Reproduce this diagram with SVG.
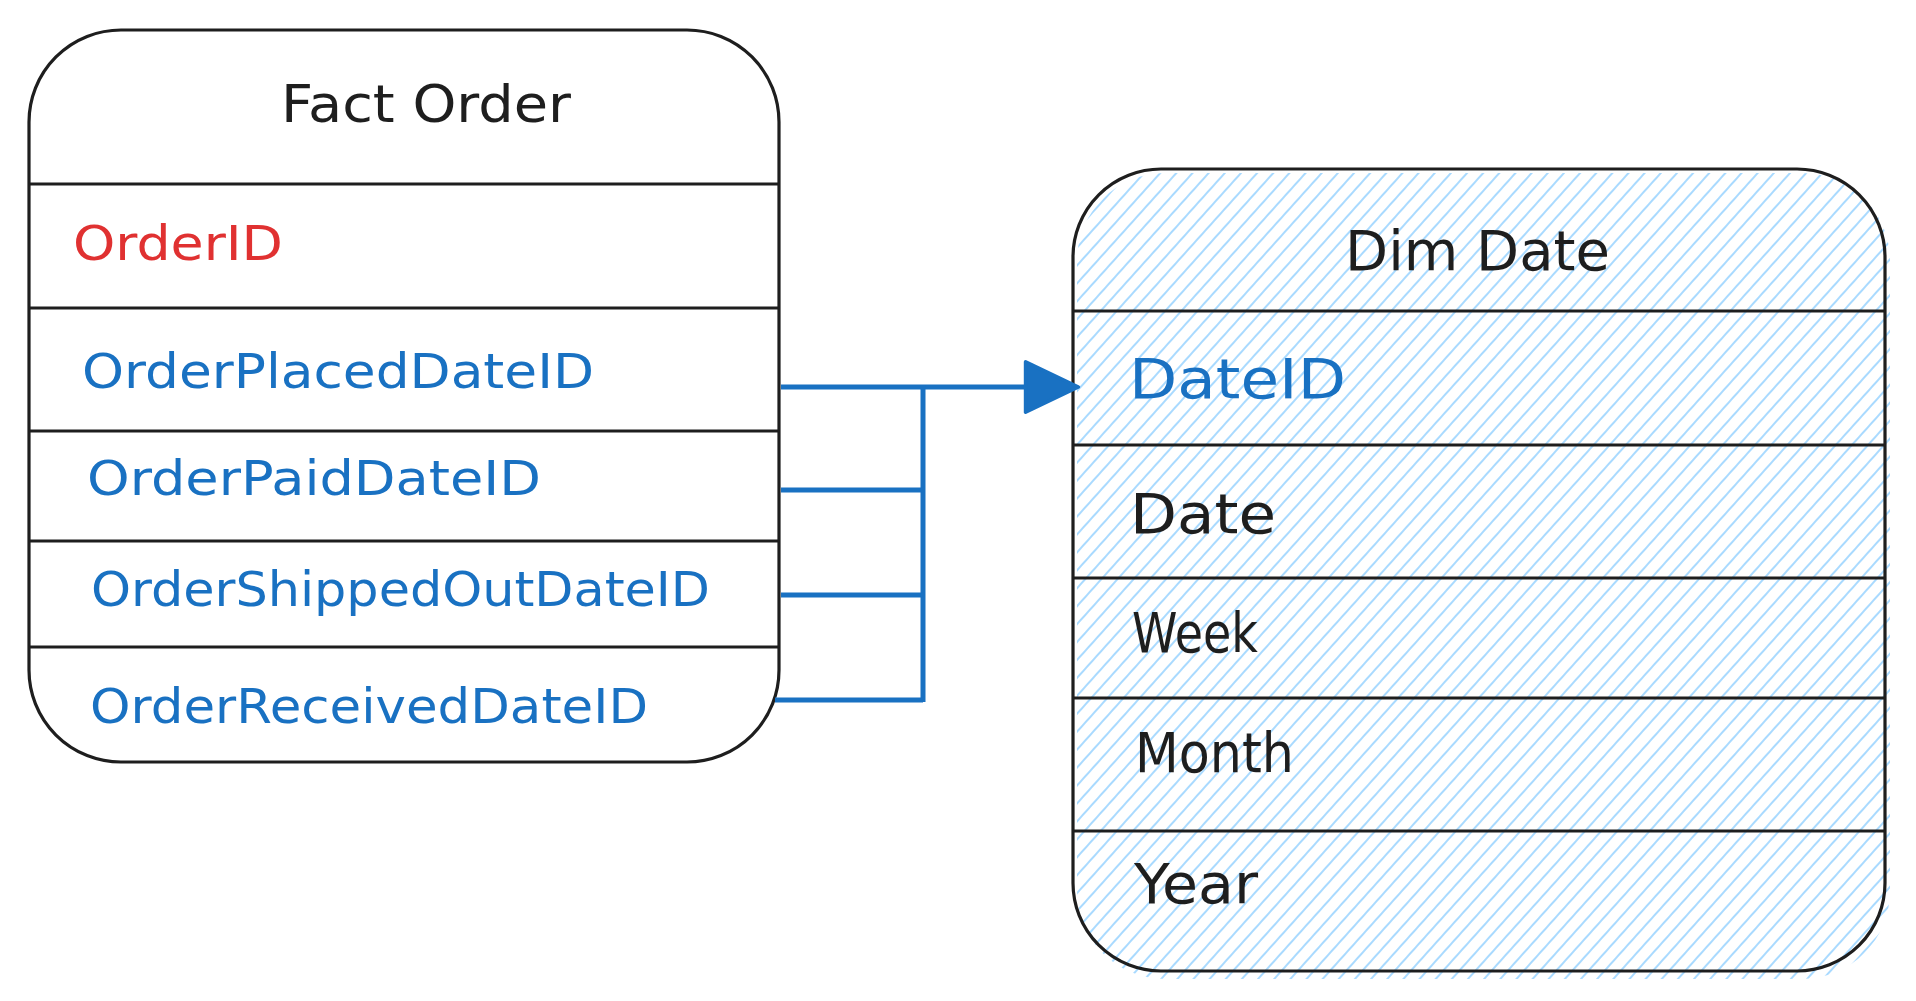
<svg xmlns="http://www.w3.org/2000/svg" width="1916" height="1001" viewBox="0 0 1916 1001">
<style>
.box{fill:#ffffff;stroke:#1e1e1e;stroke-width:3.2}
.frame{fill:none;stroke:#1e1e1e;stroke-width:3.2}
.div{stroke:#1e1e1e;stroke-width:3.2;fill:none}
.t{font-family:"DejaVu Sans","Liberation Sans",sans-serif;}
.title{font-size:52px;fill:#1e1e1e}
.lf{font-size:48px}
.rf{font-size:56px}
.blk{fill:#1e1e1e}
.red{fill:#e03131}
.blu{fill:#1971c2}
.conn{fill:none;stroke:#1971c2;stroke-width:5;stroke-linecap:butt}
</style>
<defs>
<pattern id="hatch" patternUnits="userSpaceOnUse" width="12" height="20" patternTransform="rotate(42)">
<line x1="6" y1="-2" x2="6" y2="22" stroke="#a5d8ff" stroke-width="1.9"/>
</pattern>
<marker id="arrow" markerUnits="userSpaceOnUse" markerWidth="60" markerHeight="60" viewBox="0 0 50 50" refX="14" refY="23" orient="auto">
<path d="M2,2 L46,23 L2,44 Z" fill="#1971c2" stroke="#1971c2" stroke-width="3" stroke-linejoin="round"/>
</marker>
</defs>
<rect width="1916" height="1001" fill="#ffffff"/>

<g id="fact-order">
<rect class="box" x="29" y="30" width="750" height="732" rx="92" ry="92"/>
<line class="div" x1="29" y1="184" x2="779" y2="184"/>
<line class="div" x1="29" y1="308" x2="779" y2="308"/>
<line class="div" x1="29" y1="431" x2="779" y2="431"/>
<line class="div" x1="29" y1="541" x2="779" y2="541"/>
<line class="div" x1="29" y1="647" x2="779" y2="647"/>
<text class="t title" x="281" y="122" textLength="290" lengthAdjust="spacingAndGlyphs">Fact Order</text>
<text class="t lf red" x="73" y="260" textLength="210" lengthAdjust="spacingAndGlyphs">OrderID</text>
<text class="t lf blu" x="82" y="388" textLength="512" lengthAdjust="spacingAndGlyphs">OrderPlacedDateID</text>
<text class="t lf blu" x="87" y="495" textLength="454" lengthAdjust="spacingAndGlyphs">OrderPaidDateID</text>
<text class="t lf blu" x="91" y="606" textLength="619" lengthAdjust="spacingAndGlyphs">OrderShippedOutDateID</text>
<text class="t lf blu" x="90" y="723" textLength="558" lengthAdjust="spacingAndGlyphs">OrderReceivedDateID</text>
</g>

<g id="dim-date">
<rect x="1077" y="173" width="813" height="806" rx="88" ry="88" fill="url(#hatch)"/>
<rect class="frame" x="1073" y="169" width="812" height="802" rx="88" ry="88"/>
<line class="div" x1="1073" y1="311" x2="1885" y2="311"/>
<line class="div" x1="1073" y1="445" x2="1885" y2="445"/>
<line class="div" x1="1073" y1="578" x2="1885" y2="578"/>
<line class="div" x1="1073" y1="698" x2="1885" y2="698"/>
<line class="div" x1="1073" y1="831" x2="1885" y2="831"/>
<text class="t rf blk" x="1345" y="270" textLength="265" lengthAdjust="spacingAndGlyphs">Dim Date</text>
<text class="t rf blu" x="1129" y="398" textLength="217" lengthAdjust="spacingAndGlyphs">DateID</text>
<text class="t rf blk" x="1130" y="533" textLength="146" lengthAdjust="spacingAndGlyphs">Date</text>
<text class="t blk" font-size="55" x="1132" y="652" textLength="126" lengthAdjust="spacingAndGlyphs">Week</text>
<text class="t blk" font-size="55" x="1135" y="772" textLength="159" lengthAdjust="spacingAndGlyphs">Month</text>
<text class="t rf blk" x="1134" y="903" textLength="124" lengthAdjust="spacingAndGlyphs">Year</text>
</g>

<g id="connectors">
<path class="conn" d="M781,387 H1040" marker-end="url(#arrow)"/>
<path class="conn" d="M923,385 V702"/>
<path class="conn" d="M781,490 H923"/>
<path class="conn" d="M781,595 H923"/>
<path class="conn" d="M775,700 H923"/>
</g>
</svg>
